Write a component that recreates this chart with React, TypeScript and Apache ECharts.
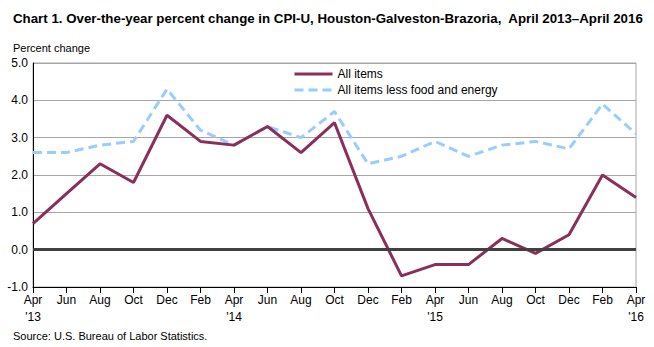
import React, { useEffect, useRef } from "react";
import * as echarts from "echarts";

const categories = [
  "Apr\n'13", "Jun", "Aug", "Oct", "Dec", "Feb",
  "Apr\n'14", "Jun", "Aug", "Oct", "Dec", "Feb",
  "Apr\n'15", "Jun", "Aug", "Oct", "Dec", "Feb",
  "Apr\n'16",
];
const allItems = [0.7, 1.5, 2.3, 1.8, 3.6, 2.9, 2.8, 3.3, 2.6, 3.4, 1.1, -0.7, -0.4, -0.4, 0.3, -0.1, 0.4, 2.0, 1.4];
const lessFoodEnergy = [2.6, 2.6, 2.8, 2.9, 4.3, 3.2, 2.8, 3.3, 3.0, 3.7, 2.3, 2.5, 2.9, 2.5, 2.8, 2.9, 2.7, 3.9, 3.1];

const FONT = "'Liberation Sans', Arial, sans-serif";

export default function App() {
  const ref = useRef<HTMLDivElement>(null);
  useEffect(() => {
    if (!ref.current) return;
    const chart = echarts.init(ref.current, null, { renderer: "svg" });
    chart.setOption({
      animation: false,
      textStyle: { fontFamily: FONT },
      title: [
        {
          text: "Chart 1. Over-the-year percent change in CPI-U, Houston-Galveston-Brazoria,  April 2013\u2013April 2016",
          left: 8,
          top: 7,
          textStyle: { fontSize: 13.3, fontWeight: "bold", color: "#000", fontFamily: FONT },
        },
        {
          text: "Percent change",
          left: 8,
          top: 37,
          textStyle: { fontSize: 11, fontWeight: "normal", color: "#000", fontFamily: FONT },
        },
        {
          text: "Source: U.S. Bureau of Labor Statistics.",
          left: 8,
          top: 325,
          textStyle: { fontSize: 11, fontWeight: "normal", color: "#000", fontFamily: FONT },
        },
      ],
      legend: {
        orient: "vertical",
        left: 288,
        top: 63,
        itemWidth: 38,
        itemHeight: 12,
        itemGap: 4,
        itemStyle: { opacity: 0 },
        lineStyle: { width: 3 },
        textStyle: { fontSize: 12, color: "#000", fontFamily: FONT },
        data: ["All items", "All items less food and energy"],
      },
      grid: {
        left: 33,
        right: 18,
        top: 63,
        bottom: 60,
        show: true,
        borderColor: "#a6a6a6",
        borderWidth: 1,
      },
      xAxis: {
        type: "category",
        data: categories,
        boundaryGap: false,
        axisLine: { onZero: false, lineStyle: { color: "#000", width: 1 } },
        axisTick: { show: true, length: 6, interval: 0, lineStyle: { color: "#000" } },
        axisLabel: { interval: 0, color: "#000", fontSize: 12, lineHeight: 17, margin: 4, fontFamily: FONT },
        splitLine: { show: false },
      },
      yAxis: {
        type: "value",
        min: -1,
        max: 5,
        interval: 1,
        axisLine: { show: true, lineStyle: { color: "#000", width: 1 } },
        axisTick: { show: false },
        axisLabel: {
          color: "#000",
          fontSize: 12,
          margin: 5,
          fontFamily: FONT,
          formatter: (v: number) => v.toFixed(1),
        },
        splitLine: { show: true, lineStyle: { color: "#a6a6a6", width: 1 } },
      },
      series: [
        {
          name: "All items",
          type: "line",
          data: allItems,
          showSymbol: false,
          symbol: "none",
          lineStyle: { color: "#8b2e5a", width: 3 },
          itemStyle: { color: "#8b2e5a" },
          markLine: {
            silent: true,
            symbol: "none",
            label: { show: false },
            lineStyle: { color: "#404040", width: 3, type: "solid" },
            data: [{ yAxis: 0 }],
          },
          z: 3,
        },
        {
          name: "All items less food and energy",
          type: "line",
          data: lessFoodEnergy,
          showSymbol: false,
          symbol: "none",
          lineStyle: { color: "#99ccff", width: 3, type: [9, 5] },
          itemStyle: { color: "#99ccff" },
          z: 2,
        },
      ],
    });
    return () => chart.dispose();
  }, []);
  return <div ref={ref} style={{ width: 654, height: 347, position: "absolute", left: 0, top: 0 }} />;
}
